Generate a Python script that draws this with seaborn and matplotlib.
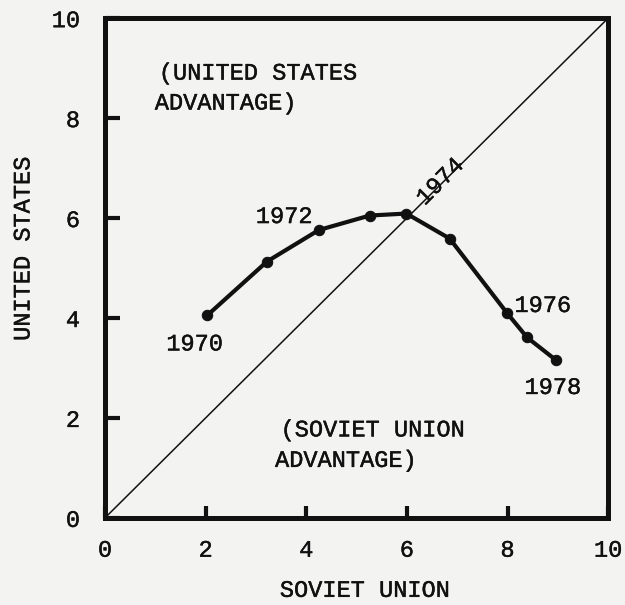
import matplotlib
matplotlib.use("Agg")
import matplotlib.pyplot as plt
import matplotlib.patheffects as pe
import seaborn as sns
import pandas as pd

# datos
years = [1970, 1971, 1972, 1973, 1974, 1975, 1976, 1977, 1978]
soviet = [2.03, 3.22, 4.25, 5.26, 5.99, 6.85, 7.99, 8.39, 8.96]
united_states = [4.05, 5.13, 5.76, 6.05, 6.09, 5.59, 4.10, 3.61, 3.16]
diag = [0, 10]
ticks = [0, 2, 4, 6, 8, 10]
tick_labels = ["0", "2", "4", "6", "8", "10"]

# etiquetas de años (texto, x, y, rotacion)
year_labels = [("1970", 1.78, 3.48, 0), ("1972", 3.56, 6.03, 0), ("1974", 6.66, 6.73, 45),
               ("1976", 8.7, 4.25, 0), ("1978", 8.9, 2.61, 0)]

df = pd.DataFrame({"year": years, "soviet": soviet, "us": united_states})

sns.set_theme(style="ticks")
plt.rcParams['font.family'] = ['Liberation Mono', 'DejaVu Sans Mono']
bg = "#f3f3f2"
ink = "#111111"
fs = 17
grueso = [pe.withStroke(linewidth=0.3, foreground=ink)]

fig = plt.figure(figsize=(6.25, 6.05), dpi=100, facecolor=bg)
ax = fig.add_axes([0.168, 0.144, 0.805, 0.826], facecolor=bg)

sns.lineplot(x=diag, y=diag, ax=ax, color=ink, linewidth=1.1)
sns.lineplot(data=df, x="soviet", y="us", ax=ax, color=ink, linewidth=3.0,
             marker="o", markersize=7.5, markeredgecolor=ink, sort=False)

ax.set_xlim(0, 10)
ax.set_ylim(0, 10)
ax.set_xticks(ticks)
ax.set_xticklabels(tick_labels)
ax.set_yticks(ticks)
ax.set_yticklabels(tick_labels)
ax.tick_params(axis="x", direction="in", length=9, width=3, pad=15, labelsize=fs, colors=ink)
ax.tick_params(axis="y", direction="in", length=11, width=3, pad=18, labelsize=fs, colors=ink)
for s in ax.spines.values():
    s.set_linewidth(3.6)
    s.set_color(ink)
for lab in ax.get_xticklabels() + ax.get_yticklabels():
    lab.set_path_effects(grueso)

ax.set_xlabel("SOVIET UNION", fontsize=fs, color=ink, va="center", path_effects=grueso)
ax.set_ylabel("UNITED STATES", fontsize=fs, color=ink, va="center", path_effects=grueso)
ax.xaxis.set_label_coords(0.516, -0.145)
ax.yaxis.set_label_coords(-0.163, 0.538)

ax.text(1.07, 8.9, "(UNITED STATES", fontsize=fs, color=ink, va="center", ha="left", path_effects=grueso)
ax.text(0.99, 8.3, "ADVANTAGE)", fontsize=fs, color=ink, va="center", ha="left", path_effects=grueso)
ax.text(3.49, 1.76, "(SOVIET UNION", fontsize=fs, color=ink, va="center", ha="left", path_effects=grueso)
ax.text(3.38, 1.15, "ADVANTAGE)", fontsize=fs, color=ink, va="center", ha="left", path_effects=grueso)

for t, x, y, r in year_labels:
    ax.text(x, y, t, fontsize=fs, color=ink, ha="center", va="center", rotation=r,
            rotation_mode="anchor", path_effects=grueso)

plt.savefig("out.png", dpi=100, facecolor=bg)
